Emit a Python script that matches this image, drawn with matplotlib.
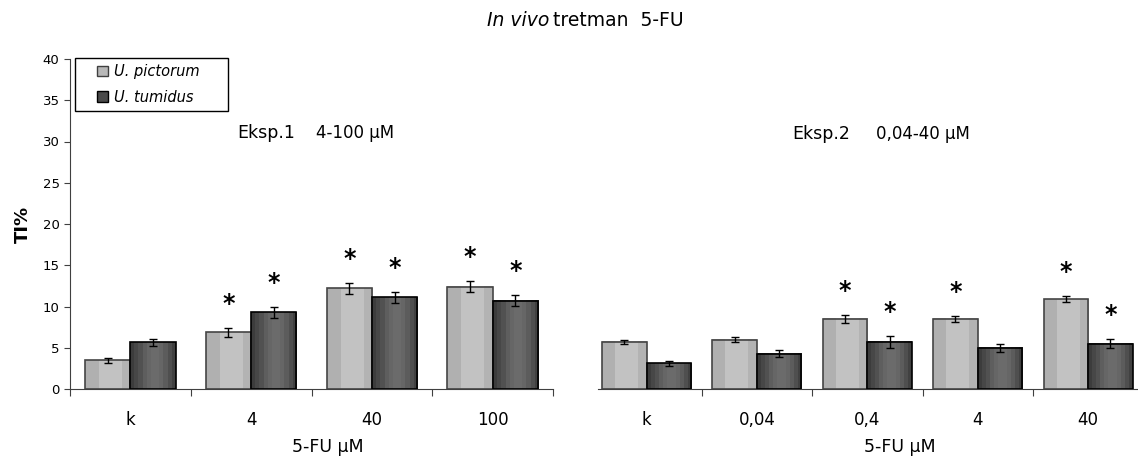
import matplotlib
matplotlib.use('Agg')
import matplotlib.pyplot as plt
import numpy as np
from matplotlib.patches import Patch, Rectangle

# Eksp.1  (4-100 uM)
groups1 = ['k', '4', '40', '100']
pict1 = [3.5, 6.85, 12.2, 12.4]
pict1_err = [0.3, 0.6, 0.68, 0.64]
tum1 = [5.65, 9.3, 11.1, 10.7]
tum1_err = [0.45, 0.66, 0.65, 0.65]
sig_pict1 = [False, True, True, True]
sig_tum1 = [False, True, True, True]

# Eksp.2  (0,04-40 uM)
groups2 = ['k', '0,04', '0,4', '4', '40']
pict2 = [5.7, 6.0, 8.5, 8.5, 10.9]
pict2_err = [0.3, 0.35, 0.5, 0.35, 0.35]
tum2 = [3.1, 4.3, 5.7, 5.0, 5.5]
tum2_err = [0.35, 0.4, 0.7, 0.5, 0.55]
sig_pict2 = [False, False, True, True, True]
sig_tum2 = [False, False, True, False, True]

# vertical stripe shading of the bars (grey level across the bar)
LIGHT = np.array([0.69, 0.69, 0.69, 0.76, 0.76, 0.76, 0.76, 0.76, 0.70, 0.70])
DARK = np.array([0.24, 0.28, 0.32, 0.37, 0.40, 0.42, 0.42, 0.40, 0.36, 0.31, 0.26])


def shaded_bars(ax, x, heights, width, profile, edge):
	'''bar with a striped grey fill, done with imshow inside each bar'''
	bars = ax.bar(x, heights, width, facecolor='none', edgecolor=edge,
		linewidth=1.2, zorder=3)
	img = np.tile(profile, (2, 1))
	for b in bars:
		x0 = b.get_x()
		ax.imshow(img, cmap='gray', vmin=0, vmax=1, aspect='auto',
			interpolation='nearest', zorder=2,
			extent=[x0, x0 + b.get_width(), 0, b.get_height()])
	return bars


def panel(ax, groups, pict, pict_err, tum, tum_err, sig_p, sig_t, width):
	x = np.arange(len(groups))
	xp = x - width/2
	xt = x + width/2
	shaded_bars(ax, xp, pict, width, LIGHT, '#454545')
	shaded_bars(ax, xt, tum, width, DARK, 'black')
	ax.errorbar(xp, pict, yerr=pict_err, fmt='none', ecolor='black',
		elinewidth=1, capsize=3, capthick=1, zorder=4)
	ax.errorbar(xt, tum, yerr=tum_err, fmt='none', ecolor='black',
		elinewidth=1, capsize=3, capthick=1, zorder=4)
	for xs, vals, errs, sig in [(xp, pict, pict_err, sig_p), (xt, tum, tum_err, sig_t)]:
		for i in range(len(xs)):
			if sig[i]:
				ax.text(xs[i], vals[i] + errs[i] + 2.9, '*', ha='center',
					va='center', fontsize=17, fontweight='bold')
	#group separators as ticks, names as label-only minor ticks
	ax.set_xticks(x, groups, minor=True)
	ax.tick_params(axis='x', which='minor', length=0, pad=16, labelsize=12)
	ax.tick_params(axis='x', which='major', length=5, direction='out',
		labelbottom=False, color='#404040')
	ax.set_ylim(0, 40)
	for s in ['top', 'right']:
		ax.spines[s].set_visible(False)
	ax.spines['bottom'].set_color('#404040')
	ax.spines['left'].set_color('#404040')
	return x


fig = plt.figure(figsize=(11.38, 4.58), dpi=100)
ax1 = fig.add_axes([70/1138, 69/458, 483/1138, 330/458])
ax2 = fig.add_axes([597.5/1138, 69/458, 540.5/1138, 330/458])

x1 = panel(ax1, groups1, pict1, pict1_err, tum1, tum1_err, sig_pict1, sig_tum1, 0.375)
ax1.set_xticks(np.arange(-0.5, len(groups1), 1))
ax1.set_xlim(-0.5, 3.5)
ax1.set_yticks(np.arange(0, 41, 5))
ax1.tick_params(axis='y', length=4, labelsize=9.5, color='#404040')
ax1.set_ylabel('TI%', fontsize=13, fontweight='bold', labelpad=8)
ax1.set_xlabel('5-FU µM', fontsize=12.5)
ax1.xaxis.set_label_coords(0.534, -0.148)
ax1.text(0.883, 30.4, 'Eksp.1', fontsize=12.5, va='baseline')
ax1.text(1.537, 30.4, '4-100 µM', fontsize=12, va='baseline')

x2 = panel(ax2, groups2, pict2, pict2_err, tum2, tum2_err, sig_pict2, sig_tum2, 0.403)
ax2.set_xticks(np.arange(0.5, len(groups2), 1))
ax2.set_xlim(-0.444, 4.452)
ax2.spines['left'].set_visible(False)
ax2.set_yticks([])
ax2.set_xlabel('5-FU µM', fontsize=12.5)
ax2.xaxis.set_label_coords(0.56, -0.148)
ax2.text(1.318, 30.3, 'Eksp.2', fontsize=12.5, va='baseline')
ax2.text(2.079, 30.3, '0,04-40 µM', fontsize=12, va='baseline')

#legend: entries without frame, box drawn separately (wider than tall)
handles = [Patch(facecolor='#b8b8b8', edgecolor='#404040', label='U. pictorum'),
	Patch(facecolor='#4a4a4a', edgecolor='black', label='U. tumidus')]
ax1.legend(handles=handles, loc='upper left', bbox_to_anchor=(0.0559, 0.985),
	borderaxespad=0, borderpad=0, frameon=False,
	prop={'style': 'italic', 'size': 10.5}, handlelength=0.75, handleheight=0.75,
	handletextpad=0.45, labelspacing=0.75)
ax1.add_patch(Rectangle((0.0104, 0.8424), 0.3168, 0.1606, transform=ax1.transAxes,
	facecolor='white', edgecolor='black', linewidth=1, clip_on=False, zorder=5))
ax1.get_legend().set_zorder(6)

fig.text(549/1138, 1 - 20/458, 'In vivo', style='italic', fontsize=13.5,
	ha='right', va='center')
fig.text(553/1138, 1 - 20/458, 'tretman  5-FU', fontsize=13.5, ha='left', va='center')

fig.savefig('out.png', dpi=100)
